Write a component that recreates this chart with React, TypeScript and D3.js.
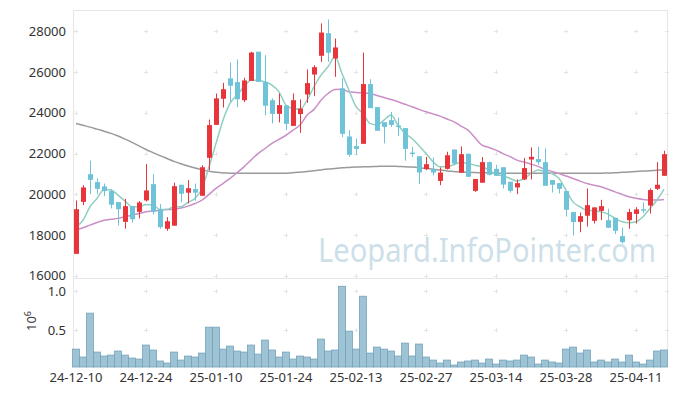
import React from 'react'
import * as d3 from 'd3'

// trading days (KRX), yy-mm-dd
const dates = [
  '24-12-10', '24-12-11', '24-12-12', '24-12-13', '24-12-16', '24-12-17', '24-12-18', '24-12-19', '24-12-20', '24-12-23',
  '24-12-24', '24-12-26', '24-12-27', '24-12-30', '25-01-02', '25-01-03', '25-01-06', '25-01-07', '25-01-08', '25-01-09',
  '25-01-10', '25-01-13', '25-01-14', '25-01-15', '25-01-16', '25-01-17', '25-01-20', '25-01-21', '25-01-22', '25-01-23',
  '25-01-24', '25-01-31', '25-02-03', '25-02-04', '25-02-05', '25-02-06', '25-02-07', '25-02-10', '25-02-11', '25-02-12',
  '25-02-13', '25-02-14', '25-02-17', '25-02-18', '25-02-19', '25-02-20', '25-02-21', '25-02-24', '25-02-25', '25-02-26',
  '25-02-27', '25-02-28', '25-03-04', '25-03-05', '25-03-06', '25-03-07', '25-03-10', '25-03-11', '25-03-12', '25-03-13',
  '25-03-14', '25-03-17', '25-03-18', '25-03-19', '25-03-20', '25-03-21', '25-03-24', '25-03-25', '25-03-26', '25-03-27',
  '25-03-28', '25-03-31', '25-04-01', '25-04-02', '25-04-03', '25-04-04', '25-04-07', '25-04-08', '25-04-09', '25-04-10',
  '25-04-11', '25-04-14', '25-04-15', '25-04-16', '25-04-17',
]

const open = [
  17080, 19630, 20990, 20600, 20390, 20160, 19620, 18650, 19420, 19140,
  19700, 20500, 19270, 18310, 18460, 20470, 20080, 20260, 19930, 21790,
  23410, 24690, 25690, 25510, 24620, 25570, 27000, 25520, 24620, 23950,
  24360, 23360, 23940, 24900, 25880, 26800, 27910, 26670, 25200, 22840,
  22370, 22480, 25410, 24280, 23540, 23640, 23380, 23250, 22050, 21870,
  21240, 21250, 20660, 21250, 22200, 21060, 21990, 20170, 20570, 21580,
  21250, 21330, 20620, 20340, 20730, 21710, 21730, 21580, 20700, 20550,
  20160, 19130, 18650, 18950, 18700, 19190, 18730, 18850, 17950, 18730,
  19040, 19270, 19450, 20270, 20910,
]
const high = [
  19700, 20450, 21650, 20780, 20530, 20240, 19620, 19780, 19420, 19670,
  21480, 20990, 19520, 18880, 20570, 20470, 20700, 20530, 21430, 23670,
  24950, 25470, 26470, 26620, 25720, 27000, 27000, 26830, 24710, 24950,
  24360, 24950, 24660, 26130, 26340, 28390, 28580, 27650, 25690, 23150,
  22740, 26960, 25650, 24280, 23540, 24050, 23770, 23250, 22330, 21870,
  21840, 21810, 21320, 22090, 22200, 22350, 21990, 20750, 21830, 21610,
  21450, 21330, 20620, 20730, 21790, 22300, 22330, 22250, 20700, 20550,
  20160, 19130, 19110, 20290, 19360, 19730, 19290, 18850, 18370, 19290,
  19370, 19600, 20290, 21580, 22140,
]
const low = [
  17080, 19470, 20010, 20010, 19910, 19310, 18470, 18320, 18620, 18820,
  19650, 19010, 18310, 18210, 18460, 19620, 19550, 19680, 19930, 21190,
  23410, 24260, 24540, 24280, 24530, 25570, 25520, 23870, 23480, 23530,
  23150, 23360, 23020, 24490, 24820, 26500, 26500, 25770, 22810, 21840,
  21940, 22480, 24230, 23120, 22500, 23310, 22860, 21650, 21840, 20500,
  21190, 20930, 20450, 21220, 21420, 21060, 20860, 20120, 20570, 20930,
  20910, 20290, 20080, 20010, 20700, 20730, 21450, 20420, 20090, 20040,
  18910, 17980, 18140, 18420, 18570, 18730, 18360, 18050, 17590, 18310,
  18570, 19080, 19060, 20210, 20910,
]
const close = [
  19270, 20340, 20710, 20270, 20160, 19490, 19270, 19420, 18780, 19600,
  20190, 19140, 18390, 18680, 20400, 20030, 20300, 20080, 21330, 23400,
  24710, 25160, 25330, 24670, 25590, 26960, 25520, 24350, 23950, 24380,
  23460, 24620, 24210, 25460, 26240, 27940, 26950, 27210, 22970, 21940,
  22230, 25410, 24230, 23120, 23310, 23410, 23310, 22230, 22000, 21070,
  21480, 21070, 21070, 21920, 21510, 21970, 20860, 20750, 21580, 20960,
  20910, 20480, 20170, 20550, 21290, 21840, 21580, 20420, 20470, 20270,
  19240, 18640, 18930, 19470, 19360, 19420, 18360, 18210, 17650, 19130,
  19260, 19240, 20210, 20470, 21970,
]

// volume, millions of shares
const volume = [
  0.256, 0.154, 0.718, 0.218, 0.167, 0.179, 0.231, 0.179, 0.141, 0.128,
  0.308, 0.244, 0.103, 0.077, 0.218, 0.115, 0.167, 0.154, 0.205, 0.538,
  0.538, 0.256, 0.295, 0.231, 0.218, 0.308, 0.192, 0.372, 0.244, 0.154,
  0.218, 0.128, 0.167, 0.154, 0.128, 0.385, 0.231, 0.244, 1.064, 0.487,
  0.256, 0.936, 0.205, 0.282, 0.256, 0.231, 0.167, 0.333, 0.167, 0.321,
  0.154, 0.115, 0.077, 0.115, 0.051, 0.090, 0.103, 0.115, 0.077, 0.128,
  0.064, 0.115, 0.103, 0.115, 0.179, 0.154, 0.064, 0.115, 0.090, 0.077,
  0.256, 0.282, 0.205, 0.244, 0.090, 0.115, 0.090, 0.128, 0.090, 0.179,
  0.090, 0.064, 0.115, 0.231, 0.244,
]

// moving averages
const ma5 = [
  18410, 18730, 19390, 19800, 20240, 20210, 19960, 19670, 19390, 19390,
  19500, 19470, 19260, 19260, 19390, 19390, 19610, 19800, 20290, 21350,
  22500, 23640, 24460, 24870, 25280, 25600, 25600, 25520, 25360, 25030,
  24380, 24210, 24170, 24620, 25280, 25850, 26260, 26750, 25930, 25110,
  24300, 23970, 23480, 23400, 23640, 23890, 23400, 22990, 22740, 22380,
  22010, 21600, 21350, 21350, 21470, 21560, 21510, 21430, 21350, 21190,
  20970, 20910, 20780, 20650, 20780, 21020, 21200, 21110, 21020, 20780,
  20210, 19630, 19390, 19220, 19190, 19140, 19030, 18820, 18650, 18600,
  18650, 18900, 19310, 19720, 20260,
]
const ma20 = [
  18240, 18360, 18490, 18620, 18730, 18780, 18820, 18900, 18980, 19060,
  19140, 19180, 19220, 19250, 19270, 19330, 19420, 19550, 19710, 20000,
  20290, 20530, 20780, 21060, 21350, 21680, 22000, 22250, 22500, 22700,
  22900, 23150, 23400, 23880, 24170, 24620, 24950, 25150, 25160, 25030,
  25000, 24980, 24950, 24850, 24750, 24650, 24540, 24420, 24300, 24170,
  24050, 23950, 23840, 23700, 23560, 23350, 23150, 22780, 22410, 22300,
  22170, 22000, 21850, 21680, 21580, 21480, 21370, 21220, 21120, 21020,
  20900, 20780, 20650, 20530, 20450, 20370, 20250, 20120, 20000, 19880,
  19810, 19750, 19720, 19720, 19750,
]
const ma120 = [
  23480, 23390, 23300, 23200, 23100, 22990, 22860, 22710, 22550, 22380,
  22200, 22050, 21900, 21760, 21620, 21500, 21390, 21290, 21200, 21130,
  21080, 21050, 21040, 21030, 21030, 21030, 21030, 21030, 21030, 21030,
  21040, 21060, 21090, 21120, 21160, 21200, 21240, 21270, 21300, 21320,
  21340, 21350, 21360, 21370, 21380, 21380, 21370, 21360, 21340, 21310,
  21270, 21230, 21190, 21150, 21120, 21100, 21080, 21070, 21060, 21050,
  21040, 21040, 21030, 21030, 21030, 21030, 21030, 21030, 21030, 21030,
  21030, 21030, 21030, 21030, 21040, 21040, 21050, 21060, 21080, 21100,
  21120, 21140, 21160, 21180, 21200,
]

const priceTicks = [16000, 18000, 20000, 22000, 24000, 26000, 28000]
const volumeTicks = [0.5, 1.0]
const dateTickEvery = 10

const W = 677
const H = 396
const left = 73
const right = 667
const top = 10
const split = 278
const bottom = 367
const font = '"Noto Sans", "Open Sans", sans-serif'

export default function App() {
  const idx = dates.map((_, i) => i)
  const x = d3.scaleLinear().domain([0, dates.length - 1]).range([76, 664])
  const y = d3.scaleLinear().domain([15894, 29047]).range([split, top])
  const yv = d3.scaleLinear().domain([0.026, 1.17]).range([bottom, split])

  const line = (vals: number[]) =>
    d3.line<number>().x((_, i) => x(i)).y((d) => y(d)).curve(d3.curveMonotoneX)(vals) || ''

  const dateTicks = idx.filter((i) => i % dateTickEvery === 0)
  const crossX = [...dateTicks.map((i) => x(i)), right]
  const crossY = [...priceTicks.map((t) => y(t)), ...volumeTicks.map((t) => yv(t))]

  return (
    <svg width={W} height={H} style={{ position: 'absolute', left: 0, top: 0, background: '#fff' }}>
      {/* frame */}
      <g stroke="#e6e6e6" strokeWidth={1} fill="none">
        <line x1={left + 0.5} x2={right + 0.5} y1={top + 0.5} y2={top + 0.5} />
        <line x1={left + 0.5} x2={right + 0.5} y1={split + 0.5} y2={split + 0.5} />
        <line x1={left + 0.5} x2={left + 0.5} y1={top} y2={bottom} />
        <line x1={right + 0.5} x2={right + 0.5} y1={top} y2={bottom} />
      </g>
      {/* grid crosses */}
      <g stroke="#e4e4e4" strokeWidth={1}>
        {crossX.map((cx) =>
          crossY.map((cy) => (
            <g key={`${cx}-${cy}`}>
              <line x1={cx - 2} x2={cx + 2} y1={Math.round(cy) + 0.5} y2={Math.round(cy) + 0.5} />
              <line x1={Math.round(cx) + 0.5} x2={Math.round(cx) + 0.5} y1={cy - 2} y2={cy + 2} />
            </g>
          ))
        )}
      </g>

      {/* watermark */}
      <text
        x={318}
        y={262}
        fontFamily={font}
        fontSize={32}
        fill="#cddfe9"
        textLength={338}
        lengthAdjust="spacingAndGlyphs"
      >
        Leopard.InfoPointer.com
      </text>

      {/* moving averages */}
      <path d={line(ma120)} fill="none" stroke="#9a9a9a" strokeWidth={1.5} />
      <path d={line(ma20)} fill="none" stroke="#c98fc6" strokeWidth={1.5} />
      <path d={line(ma5)} fill="none" stroke="#8fcfc0" strokeWidth={1.5} />

      {/* candles */}
      {idx.map((i) => {
        const up = close[i] >= open[i]
        const color = up ? '#e8353b' : '#6ec3d9'
        const cx = Math.round(x(i)) + 0.5
        const yTop = y(Math.max(open[i], close[i]))
        const yBot = y(Math.min(open[i], close[i]))
        return (
          <g key={dates[i]}>
            <line x1={cx} x2={cx} y1={y(high[i])} y2={y(low[i])} stroke={color} strokeWidth={1} />
            <rect x={cx - 2.5} y={yTop} width={5} height={Math.max(1.5, yBot - yTop)} fill={color} />
          </g>
        )
      })}

      {/* volume */}
      {idx.map((i) => (
        <rect
          key={`v${i}`}
          x={x(i) - 3.5}
          y={yv(volume[i])}
          width={7}
          height={bottom - yv(volume[i])}
          fill="#9ec3d4"
          stroke="#74a3ba"
          strokeWidth={0.8}
        />
      ))}

      {/* price axis labels */}
      <g fontFamily={font} fontSize={13} fill="#333" textAnchor="end">
        {priceTicks.map((t) => (
          <text key={t} x={66} y={y(t) + 4.5}>
            {t}
          </text>
        ))}
        {volumeTicks.map((t) => (
          <text key={t} x={66} y={yv(t) + 4.5}>
            {t.toFixed(1)}
          </text>
        ))}
      </g>
      <text transform="translate(36,321) rotate(-90)" fontFamily={font} fontSize={13} fill="#333" textAnchor="middle">
        10<tspan dy={-5} fontSize={9}>6</tspan>
      </text>

      {/* date axis labels */}
      <g fontFamily={font} fontSize={13} fill="#333" textAnchor="middle">
        {dateTicks.map((i) => (
          <text key={i} x={x(i)} y={382}>
            {dates[i]}
          </text>
        ))}
      </g>
    </svg>
  )
}
